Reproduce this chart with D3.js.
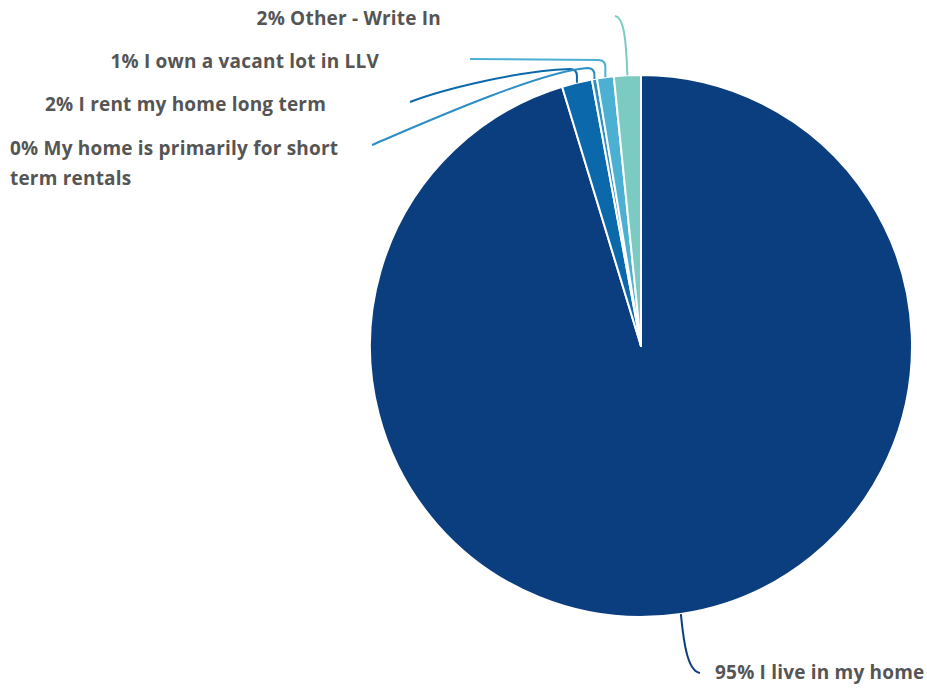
<!DOCTYPE html>
<html>
<head>
<meta charset="utf-8">
<script src="https://cdn.jsdelivr.net/npm/d3@7"></script>
<style>
  html, body { margin: 0; padding: 0; background: #fff; }
  svg { display: block; }
  .lbl { font-family: "Open Sans", Lato, sans-serif; font-weight: 700; font-size: 19px; letter-spacing: 0.2px; fill: #555; }
</style>
</head>
<body>
<svg id="chart" width="927" height="690"></svg>
<script>
// Survey answers, in drawing order (clockwise from 12 o'clock)
const categories = [
  "I live in my home",
  "I rent my home long term",
  "My home is primarily for short term rentals",
  "I own a vacant lot in LLV",
  "Other - Write In"
];
const shares = [95.3, 1.8, 0.3, 1.0, 1.6];
const colors = ["#0b3e7e", "#0b69ab", "#2b8fc6", "#4cb0d3", "#7ccbc3"];

// Label wrapping (line breaks) per category
const labelLines = [
  ["I live in my home"],
  ["I rent my home long term"],
  ["My home is primarily for short", "term rentals"],
  ["I own a vacant lot in LLV"],
  ["Other - Write In"]
];

const W = 927, H = 690;
const cx = 641, cy = 346, R = 271;

const svg = d3.select("#chart");
const g = svg.append("g").attr("transform", `translate(${cx},${cy})`);

const pie = d3.pie().sort(null).value(d => d);
const arcs = pie(shares);
const arc = d3.arc().innerRadius(0).outerRadius(R);

g.selectAll("path.slice")
  .data(arcs)
  .join("path")
  .attr("class", "slice")
  .attr("d", arc)
  .attr("fill", (d, i) => colors[i])
  .attr("stroke", "#fff")
  .attr("stroke-width", 2)
  .attr("stroke-linejoin", "round");

// Callout layout (relative to the pie centre): optional elbow height above
// the centre, bezier control points and the end point of each leader.
const leaders = [
  { elbow: null, c1: [43, 300], c2: [47, 325], end: [59, 327] },
  { elbow: -277, c1: [-125, -275], c2: [-200, -256], end: [-231, -244] },
  { elbow: -278, c1: [-100, -275], c2: [-220, -222], end: [-269, -201] },
  { elbow: -286, c1: null, c2: null, end: [-171, -287] },
  { elbow: null, c1: [-15, -312], c2: [-18, -329], end: [-26, -330] }
];

// Label anchor points (relative to the pie centre)
const labelPos = [
  [74, 333, "start"],
  [-315, -235, "end"],
  [-631, -191, "start"],
  [-262, -278, "end"],
  [-200, -321, "end"]
];

const fmt = d3.format(".0f");

arcs.forEach((a, i) => {
  const L = leaders[i];
  const mid = (a.startAngle + a.endAngle) / 2;
  const sx = R * Math.sin(mid), sy = -R * Math.cos(mid);
  const p = d3.path();
  p.moveTo(sx, sy);
  if (L.elbow !== null) {
    const r = 7;
    p.lineTo(sx, L.elbow + r);
    p.quadraticCurveTo(sx, L.elbow, sx - r, L.elbow);
    if (L.c1) p.bezierCurveTo(L.c1[0], L.c1[1], L.c2[0], L.c2[1], L.end[0], L.end[1]);
    else p.lineTo(L.end[0], L.end[1]);
  } else {
    p.bezierCurveTo(L.c1[0], L.c1[1], L.c2[0], L.c2[1], L.end[0], L.end[1]);
  }
  g.append("path")
    .attr("d", p.toString())
    .attr("fill", "none")
    .attr("stroke", colors[i])
    .attr("stroke-width", 2);
});

arcs.forEach((a, i) => {
  const [x, y, anchor] = labelPos[i];
  const t = g.append("text")
    .attr("class", "lbl")
    .attr("x", x)
    .attr("y", y)
    .attr("text-anchor", anchor);
  labelLines[i].forEach((line, j) => {
    const txt = (j === 0 ? fmt(shares[i]) + "% " : "") + line;
    t.append("tspan").attr("x", x).attr("dy", j === 0 ? 0 : 30).text(txt);
  });
});
</script>
</body>
</html>
